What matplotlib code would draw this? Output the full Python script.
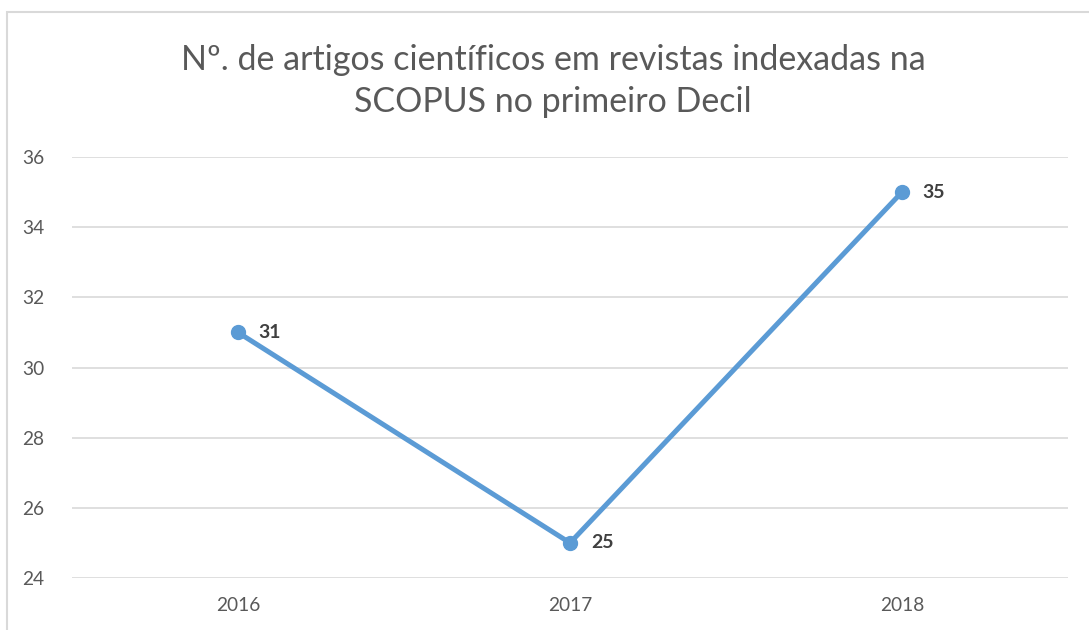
import matplotlib.pyplot as plt
from matplotlib.patches import Rectangle

# data
years = ['2016', '2017', '2018']
artigos = [31, 25, 35]
y_ticks = [24, 26, 28, 30, 32, 34, 36]

plt.rcParams['font.family'] = ['Lato', 'DejaVu Sans']

fig = plt.figure(figsize=(10.89, 6.3), dpi=100)
W, H = 1089, 630

# chart border (grey frame like in Excel)
fig.patches.append(Rectangle((7 / W, -0.1), 1.2, 1 - 12 / H + 0.1, transform=fig.transFigure,
                             fill=False, edgecolor='#D9D9D9', linewidth=1.5))

ax = fig.add_axes([72 / W, 1 - 578 / H, (1068 - 72) / W, (578 - 157) / H])
x = list(range(len(years)))
ax.plot(x, artigos, color='#5B9BD5', linewidth=3.6, marker='o', markersize=10,
        solid_capstyle='round', zorder=3)

for xi, v in zip(x, artigos):
    ax.annotate(str(v), (xi, v), xytext=(15, 0), textcoords='offset points',
                ha='left', va='center', fontsize=14, fontweight='bold', color='#404040')

ax.set_xlim(-0.5, len(years) - 0.5)
ax.set_ylim(24, 36)
ax.set_yticks(y_ticks)
ax.set_xticks(x)
ax.set_xticklabels(years)
ax.grid(axis='y', color='#D9D9D9', linewidth=1.2)
ax.set_axisbelow(True)
for s in ax.spines.values():
    s.set_visible(False)
ax.tick_params(length=0, labelsize=13.8, labelcolor='#595959')
ax.tick_params(axis='y', pad=20)
ax.tick_params(axis='x', pad=14)

fig.text(553 / W, 1 - 81 / H, 'Nº. de artigos científicos em revistas indexadas na\nSCOPUS no primeiro Decil',
         ha='center', va='center', fontsize=24.5, color='#595959', linespacing=1.42)

fig.savefig('out.png', dpi=100)
